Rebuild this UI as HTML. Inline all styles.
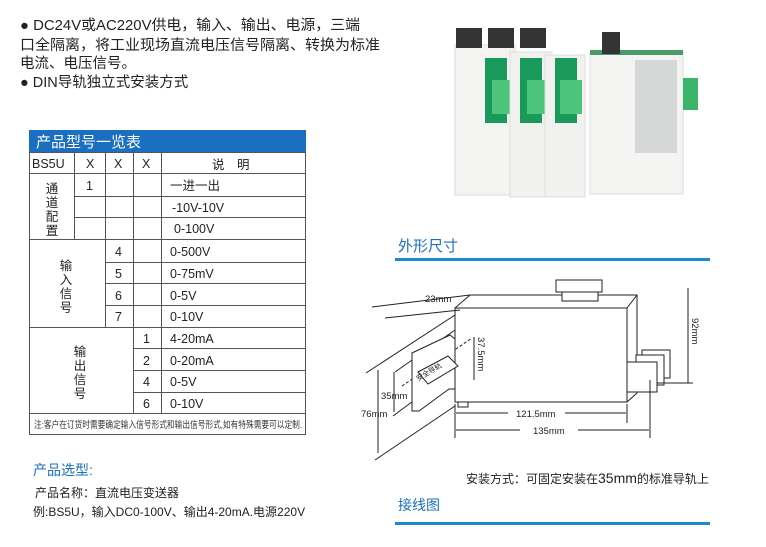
<!DOCTYPE html>
<html><head><meta charset="utf-8"><style>
html,body{margin:0;padding:0;background:#fff;width:766px;height:547px;overflow:hidden}
svg text{font-family:"Liberation Sans","Noto Sans CJK SC",sans-serif}
</style></head><body>
<svg width="766" height="547" viewBox="0 0 766 547" xmlns="http://www.w3.org/2000/svg">
<g font-size="14.5" fill="#222">
<text x="20" y="30" textLength="340" lengthAdjust="spacingAndGlyphs">● DC24V或AC220V供电，输入、输出、电源，三端</text>
<text x="20" y="50" textLength="360" lengthAdjust="spacingAndGlyphs">口全隔离，将工业现场直流电压信号隔离、转换为标准</text>
<text x="20" y="68">电流、电压信号。</text>
<text x="20" y="87">● DIN导轨独立式安装方式</text>
</g>
<g>
<rect x="455" y="45" width="60" height="150" fill="#f3f4f2" stroke="#ddd"/>
<rect x="456" y="28" width="26" height="20" fill="#333"/>
<rect x="485" y="58" width="22" height="65" fill="#1a9a5a"/>
<rect x="492" y="80" width="22" height="34" fill="#4cc47a"/>
<rect x="510" y="52" width="42" height="145" fill="#f1f2f0" stroke="#ddd"/>
<rect x="488" y="28" width="26" height="20" fill="#333"/>
<rect x="520" y="58" width="22" height="65" fill="#1a9a5a"/>
<rect x="527" y="80" width="22" height="34" fill="#4cc47a"/>
<rect x="545" y="55" width="40" height="142" fill="#f1f2f0" stroke="#ddd"/>
<rect x="520" y="28" width="26" height="20" fill="#333"/>
<rect x="555" y="58" width="22" height="65" fill="#1a9a5a"/>
<rect x="560" y="80" width="22" height="34" fill="#4cc47a"/>
<rect x="590" y="52" width="93" height="142" fill="#f4f4f2" stroke="#ddd"/>
<rect x="590" y="50" width="93" height="5" fill="#4a9a6a"/>
<rect x="602" y="32" width="18" height="22" fill="#333"/>
<rect x="635" y="60" width="42" height="93" fill="#d6d8d8"/>
<rect x="683" y="78" width="15" height="32" fill="#3cb46a"/>
</g>
<rect x="29" y="130" width="277" height="22" fill="#1a6fc0"/>
<text x="36" y="147" font-size="15" fill="#fff">产品型号一览表</text>
<g stroke="#555" stroke-width="1" fill="none">
<rect x="29.5" y="152.5" width="276" height="282"/>
<line x1="29" y1="173.5" x2="306" y2="173.5"/>
<line x1="74.5" y1="152" x2="74.5" y2="239"/>
<line x1="105.5" y1="152" x2="105.5" y2="327"/>
<line x1="133.5" y1="152" x2="133.5" y2="413"/>
<line x1="161.5" y1="152" x2="161.5" y2="413"/>
<line x1="74" y1="196.5" x2="306" y2="196.5"/>
<line x1="74" y1="217.5" x2="306" y2="217.5"/>
<line x1="29" y1="239.5" x2="306" y2="239.5"/>
<line x1="105" y1="262.5" x2="306" y2="262.5"/>
<line x1="105" y1="283.5" x2="306" y2="283.5"/>
<line x1="105" y1="305.5" x2="306" y2="305.5"/>
<line x1="29" y1="327.5" x2="306" y2="327.5"/>
<line x1="133" y1="348.5" x2="306" y2="348.5"/>
<line x1="133" y1="370.5" x2="306" y2="370.5"/>
<line x1="133" y1="392.5" x2="306" y2="392.5"/>
<line x1="29" y1="413.5" x2="306" y2="413.5"/>
</g>
<g font-size="12.5" fill="#222">
<text x="32" y="168">BS5U</text>
<text x="86" y="168">X</text><text x="114" y="168">X</text><text x="142" y="168">X</text>
<text x="212" y="169">说　明</text>
<text x="86" y="190">1</text>
<text x="170" y="190">一进一出</text>
<text x="172" y="212">-10V-10V</text>
<text x="174" y="233">0-100V</text>
<text x="115" y="256">4</text><text x="170" y="256">0-500V</text>
<text x="115" y="278">5</text><text x="170" y="278">0-75mV</text>
<text x="115" y="300">6</text><text x="170" y="300">0-5V</text>
<text x="115" y="321">7</text><text x="170" y="321">0-10V</text>
<text x="143" y="343">1</text><text x="170" y="343">4-20mA</text>
<text x="143" y="365">2</text><text x="170" y="365">0-20mA</text>
<text x="143" y="386">4</text><text x="170" y="386">0-5V</text>
<text x="143" y="408">6</text><text x="170" y="408">0-10V</text>
</g>
<g font-size="12.5" fill="#222" text-anchor="middle">
<text x="52" y="193">通</text><text x="52" y="207">道</text><text x="52" y="221">配</text><text x="52" y="235">置</text>
<text x="66" y="270">输</text><text x="66" y="284">入</text><text x="66" y="298">信</text><text x="66" y="312">号</text>
<text x="80" y="356">输</text><text x="80" y="370">出</text><text x="80" y="384">信</text><text x="80" y="398">号</text>
</g>
<text x="34" y="428" font-size="9.5" fill="#333" textLength="268" lengthAdjust="spacingAndGlyphs">注:客户在订货时需要确定输入信号形式和输出信号形式,如有特殊需要可以定制.</text>
<text x="33" y="475" font-size="14" fill="#1a6fc0">产品选型:</text>
<text x="35" y="497" font-size="12" fill="#222">产品名称：直流电压变送器</text>
<text x="33" y="516" font-size="12" fill="#222">例:BS5U，输入DC0-100V、输出4-20mA.电源220V</text>
<text x="398" y="251" font-size="15" fill="#1a6fc0">外形尺寸</text>
<rect x="395" y="258" width="315" height="3" fill="#1a8ad0"/>
<g stroke="#222" stroke-width="1" fill="none">
<polygon points="455,308 627,308 627,402 455,402"/>
<polyline points="455,308 470,295 637,295 637,393 627,402"/>
<line x1="627" y1="308" x2="637" y2="295"/>
<rect x="556" y="280" width="46" height="12" fill="#fff"/>
<rect x="562" y="292" width="36" height="9" fill="#fff"/>
<rect x="642" y="350" width="28" height="28" fill="#fff"/>
<rect x="636" y="355" width="28" height="30" fill="#fff"/>
<rect x="627" y="362" width="30" height="30" fill="#fff"/>
<line x1="657" y1="383" x2="693" y2="383"/>
<line x1="688" y1="288" x2="688" y2="383"/>
<line x1="455" y1="404" x2="455" y2="438"/>
<line x1="627" y1="404" x2="627" y2="423"/>
<line x1="650" y1="380" x2="650" y2="438"/>
<line x1="456" y1="413" x2="508" y2="413"/><line x1="565" y1="413" x2="626" y2="413"/>
<line x1="456" y1="430" x2="520" y2="430"/><line x1="578" y1="430" x2="649" y2="430"/>
<line x1="372" y1="307" x2="470" y2="295"/>
<line x1="385" y1="318" x2="460" y2="310"/>
<line x1="366" y1="373" x2="455" y2="315"/>
<line x1="395" y1="372" x2="455" y2="330"/>
<line x1="393" y1="416" x2="455" y2="370"/>
<line x1="375" y1="460" x2="455" y2="406"/>
<line x1="378" y1="370" x2="378" y2="453"/>
<line x1="394" y1="372" x2="394" y2="412"/>
<line x1="474" y1="337" x2="474" y2="380"/>
<line x1="402" y1="386" x2="472" y2="338" stroke-dasharray="3,2"/>
<path d="M412 356 l0 -3 l38 -18 l5 4 l0 50 l-6 0 l-30 22 l-7 0 z" fill="#fff"/>
<path d="M418 372 l30 -16 l10 10 l-30 18 z" fill="#fff"/>
<rect x="458" y="402" width="10" height="5"/>
</g>
<g font-size="9.5" fill="#222">
<text x="425" y="302">23mm</text>
<text x="381" y="399">35mm</text>
<text x="361" y="417">76mm</text>
<text x="516" y="417">121.5mm</text>
<text x="533" y="434">135mm</text>
<text x="478" y="337" transform="rotate(90 478 337)">37.5mm</text>
<text x="692" y="318" transform="rotate(90 692 318)">92mm</text>
<text x="418" y="381" font-size="7" transform="rotate(-30 418 381)">安全导轨</text>
</g>
<text x="466" y="483" font-size="12" fill="#222">安装方式：可固定安装在<tspan font-size="14">35mm</tspan>的标准导轨上</text>
<text x="398" y="510" font-size="14" fill="#1a6fc0">接线图</text>
<rect x="395" y="522" width="315" height="3" fill="#1a8ad0"/>
</svg>
</body></html>
